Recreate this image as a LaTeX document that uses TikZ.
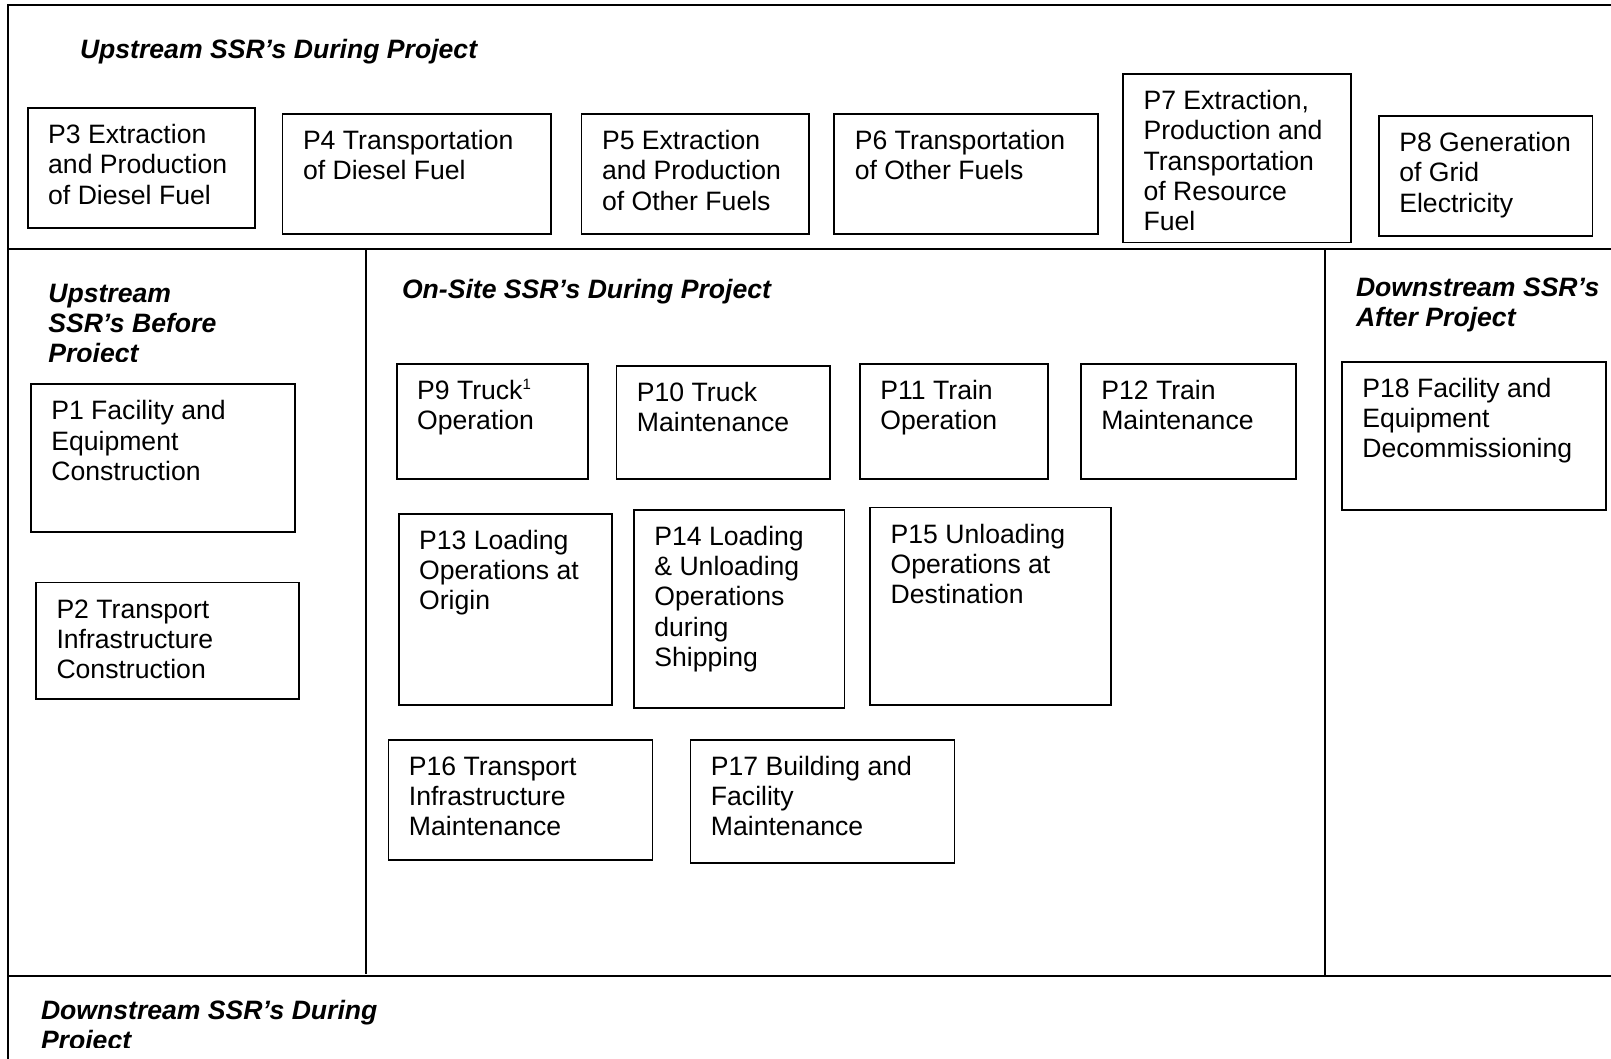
\documentclass[tikz,border=0pt]{standalone}
\usepackage{fontspec}
\setmainfont{Liberation Sans}
\usetikzlibrary{calc}

\tikzset{
  frameline/.style={line width=2pt, line cap=rect},
  boxframe/.style={draw, rectangle, line width=1.8pt, inner sep=0pt, outer sep=0pt, anchor=north west},
  boxtext/.style={inner sep=0pt, outer sep=0pt, anchor=north west, align=left,
    font=\fontsize{26.6}{30.3}\selectfont},
  headtext/.style={boxtext, font=\fontsize{26.6}{30.3}\selectfont\bfseries\itshape},
}

% #1 name, #2/#3 top-left corner, #4/#5 bottom-right corner, #6 label
\newcommand\ssrbox[6]{%
  \node[boxframe, minimum width={#4-#2}, minimum height={#5-#3}] (#1) at (#2,#3) {};
  \node[boxtext] (#1-text) at ($(#1.north west)+(20.5,9.5)$) {\rule{0pt}{26pt}#6};
}
\newcommand\smallsup[1]{\raisebox{10pt}{\fontsize{15}{15}\selectfont #1}}

\begin{document}
\begin{tikzpicture}[x=1pt, y=-1pt]
  \useasboundingbox (0,0) rectangle (1611,1058);
  \clip (0,0) rectangle (1611,1058);
  \fill[white] (0,0) rectangle (1611,1058);

  % outer frame and section dividers
  \draw[frameline] (8,1070) -- (8,5) -- (1620,5);
  \draw[frameline] (8,249) -- (1620,249);
  \draw[frameline] (8,976) -- (1620,976);
  \draw[frameline] (366,249) -- (366,973);
  \draw[frameline] (1325,249) -- (1325,976);

  % section headings
  \node[headtext, anchor=base west] (upduring) at (80,58.5) {Upstream SSR’s During Project};
  \node[headtext, anchor=base west] (onsite) at (402,298) {On-Site SSR’s During Project};
  \begin{scope}
    \clip (9,250) rectangle (365,361);
    \node[headtext] (upbefore) at (48.3,276) {\rule{0pt}{26pt}Upstream\\SSR’s Before\\Project};
  \end{scope}
  \node[headtext] (downafter) at (1356,270) {\rule{0pt}{26pt}Downstream SSR’s\\After Project};
  \begin{scope}
    \clip (9,977) rectangle (1611,1047.5);
    \node[headtext] (downduring) at (41,993) {\rule{0pt}{26pt}Downstream SSR’s During\\Project};
  \end{scope}

  % upstream during project
  \ssrbox{p3}{27.7}{107.9}{254.8}{228.1}{P3 Extraction\\and Production\\of Diesel Fuel}
  \ssrbox{p4}{282.5}{114.0}{550.7}{234.2}{P4 Transportation\\of Diesel Fuel}
  \ssrbox{p5}{581.5}{114.0}{808.6}{234.2}{P5 Extraction\\and Production\\of Other Fuels}
  \ssrbox{p6}{834.3}{114.0}{1098.3}{234.2}{P6 Transportation\\of Other Fuels}
  \ssrbox{p7}{1123.0}{74.0}{1351.0}{242.5}{P7 Extraction,\\Production and\\Transportation\\of Resource\\Fuel}
  \ssrbox{p8}{1378.8}{116.1}{1592.5}{236.3}{P8 Generation\\of Grid\\Electricity}

  % upstream before project
  \ssrbox{p1}{30.8}{384.2}{294.9}{532.2}{P1 Facility and\\Equipment\\Construction}
  \ssrbox{p2}{36.0}{582.5}{299.0}{698.6}{P2 Transport\\Infrastructure\\Construction}

  % on-site during project
  \ssrbox{p9}{396.6}{363.7}{587.7}{478.8}{P9 Truck\smallsup{1}\\Operation}
  \ssrbox{p10}{616.4}{365.8}{830.1}{478.8}{P10 Truck\\Maintenance}
  \ssrbox{p11}{859.9}{363.7}{1048.0}{478.8}{P11 Train\\Operation}
  \ssrbox{p12}{1080.8}{363.7}{1295.6}{478.8}{P12 Train\\Maintenance}
  \ssrbox{p13}{398.6}{513.7}{612.3}{704.8}{P13 Loading\\Operations at\\Origin}
  \ssrbox{p14}{633.9}{509.6}{844.5}{707.9}{P14 Loading\\\& Unloading\\Operations\\during\\Shipping}
  \ssrbox{p15}{870.2}{507.5}{1110.6}{704.8}{P15 Unloading\\Operations at\\Destination}
  \ssrbox{p16}{388.4}{739.7}{652.4}{859.9}{P16 Transport\\Infrastructure\\Maintenance}
  \ssrbox{p17}{690.4}{739.7}{954.5}{863.0}{P17 Building and\\Facility\\Maintenance}

  % downstream after project
  \ssrbox{p18}{1341.8}{361.6}{1605.9}{509.6}{P18 Facility and\\Equipment\\Decommissioning}
\end{tikzpicture}
\end{document}
